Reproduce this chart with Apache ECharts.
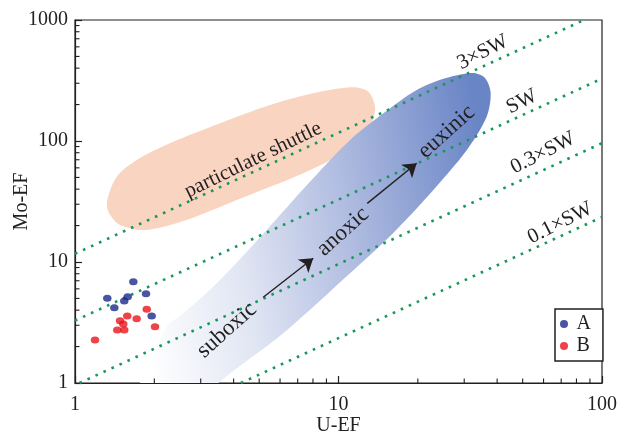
<!DOCTYPE html>
<html><head><meta charset="utf-8">
<script src="https://cdn.jsdelivr.net/npm/echarts@6/dist/echarts.min.js"></script>
<style>html,body{margin:0;padding:0;background:#fff}#c{width:621px;height:440px}</style>
</head><body><div id="c"></div>
<script>
// ---- axis ticks ----
const uTicks = [1, 10, 100];
const moTicks = [1, 10, 100, 1000];
const uMinorTicks = [2,3,4,5,6,7,8,9,20,30,40,50,60,70,80,90];
const moMinorTicks = [2,3,4,5,6,7,8,9,20,30,40,50,60,70,80,90,200,300,400,500,600,700,800,900];

// ---- samples (U-EF, Mo-EF) ----
const groupA = [[1.665,6.88],[1.326,5.01],[1.410,4.19],[1.538,4.76],[1.585,5.17],[1.860,5.47],[1.954,3.58]];
const groupB = [[1.872,4.06],[1.579,3.58],[1.482,3.27],[1.714,3.40],[1.525,3.07],[1.447,2.74],[1.538,2.74],[2.012,2.92],[1.191,2.27]];

// ---- seawater Mo/U reference lines (end points) ----
const line3SW = [[1, 11.7], [85.5, 1000]];
const lineSW = [[1, 3.28], [100, 328]];
const line03SW = [[1.04, 1], [100, 96]];
const line01SW = [[4.26, 1], [100, 23.5]];

const lineLabels = ['3×SW', 'SW', '0.3×SW', '0.1×SW'];
const lineLabelPos = [[35.3, 540], [49.6, 211], [59.7, 79.6], [69.3, 21.0]];

const zoneLabels = ['suboxic', 'anoxic', 'euxinic'];
const zoneLabelPos = [[3.77, 2.74], [10.4, 17.8], [25.7, 119]];

const shuttleLabels = ['particulate shuttle'];
const shuttleLabelPos = [[4.74, 69.7]];

const arrow1 = [[5.18, 5.11], [8.02, 10.73]];
const arrow2 = [[12.86, 30.5], [19.8, 65.4]];

// ---- field outlines (U-EF, Mo-EF) ----
const shuttleOutline = [[1.326,32.5],[1.44,50.7],[1.715,69.7],[2.29,95.7],[3.55,140],[5.50,198.5],[8.51,255],[11.38,278],[12.98,255],[13.76,192],[13.36,140],[12.07,101.9],[10.43,79.1],[7.35,54.1],[4.11,32.5],[2.65,22.2],[1.871,18.4],[1.482,20.2],[1.338,26.0]];
const redoxOutline = [[32.4,365],[35.97,331.6],[37.8,249],[36.5,158.8],[30.7,84.3],[22.9,39.4],[16.1,17.3],[11.06,8.07],[6.17,2.58],[3.50,1],[2.85,0.6],[1.62,0.6],[1.76,1],[2.23,2.92],[2.58,3.77],[3.45,6.67],[5.34,18.4],[7.5,42],[11.06,101.9],[14.8,169.4],[19.8,264],[25.6,331.6]];

const FONT = '"Liberation Serif", "Times New Roman", serif';
const INK = '#231f20';
const GREEN = '#17985a';

const chart = echarts.init(document.getElementById('c'), null, {renderer: 'canvas'});

function shapeSeries(outline, fill, z) {
  return {
    type: 'custom', coordinateSystem: 'cartesian2d', xAxisIndex: 0, yAxisIndex: 0,
    silent: true, z: z, data: outline,
    renderItem: function (params, api) {
      if (params.dataIndex !== 0) return null;
      const pts = outline.map(p => api.coord(p));
      const cs = params.coordSys;
      return {
        type: 'polygon',
        shape: {points: pts, smooth: 0.3},
        style: {fill: fill},
        clipPath: {type: 'rect', shape: {x: cs.x, y: cs.y, width: cs.width, height: cs.height}}
      };
    }
  };
}

function textSeries(texts, positions, size, rotDeg) {
  return {
    type: 'custom', coordinateSystem: 'cartesian2d', xAxisIndex: 0, yAxisIndex: 0,
    silent: true, z: 6, data: positions,
    renderItem: function (params, api) {
      const p = api.coord([api.value(0), api.value(1)]);
      return {
        type: 'text', x: p[0], y: p[1], rotation: rotDeg * Math.PI / 180,
        style: {text: texts[params.dataIndex], fontFamily: FONT, fontSize: size, fill: INK, align: 'center', verticalAlign: 'middle'}
      };
    }
  };
}

// minor ticks on the log axes, positioned through the axis scales
function minorTickSeries(values, isX) {
  return {
    type: 'custom', coordinateSystem: 'cartesian2d', xAxisIndex: 0, yAxisIndex: 0,
    silent: true, z: 9, data: values.map(v => isX ? [v, 1] : [1, v]),
    renderItem: function (params, api) {
      const p = api.coord([api.value(0), api.value(1)]);
      const cs = params.coordSys;
      const L = 4.5;
      const shape = isX
        ? {x1: p[0], y1: cs.y + cs.height, x2: p[0], y2: cs.y + cs.height - L}
        : {x1: cs.x, y1: p[1], x2: cs.x + L, y2: p[1]};
      return {type: 'line', shape: shape, style: {stroke: INK, lineWidth: 1.1}};
    }
  };
}

function dotted(data) {
  return {
    type: 'line', data: data, showSymbol: false, symbol: 'none', silent: true, z: 4,
    lineStyle: {color: GREEN, width: 2.6, type: [2.6, 6.2]}
  };
}

const fmt = v => String(Math.round(v));

chart.setOption({
  animation: false,
  grid: {left: 75, top: 20, right: 19, bottom: 57, containLabel: false, outerBoundsMode: 'none',
         show: true, borderColor: INK, borderWidth: 1.2, backgroundColor: 'transparent'},
  legend: {
    data: ['A', 'B'], orient: 'vertical', left: 555, top: 309,
    padding: [5, 12, 5, 5], itemGap: 2, itemWidth: 9, itemHeight: 8, icon: 'circle',
    borderColor: INK, borderWidth: 1.5, backgroundColor: '#fff',
    textStyle: {fontFamily: FONT, fontSize: 20, color: INK, padding: [0, 0, 0, 3]}
  },
  xAxis: {
    type: 'log', logBase: 10, min: uTicks[0], max: uTicks[uTicks.length - 1], position: 'bottom',
    axisLine: {show: true, onZero: false, lineStyle: {color: INK, width: 1.2}},
    axisTick: {show: true, inside: true, length: 7, lineStyle: {color: INK, width: 1.2}},
    axisLabel: {formatter: fmt, fontFamily: FONT, fontSize: 20, color: INK, margin: 12},
    splitLine: {show: false},
    name: 'U-EF', nameLocation: 'middle', nameGap: 33, nameMoveOverlap: false,
    nameTextStyle: {fontFamily: FONT, fontSize: 20, color: INK}
  },
  yAxis: {
    type: 'log', logBase: 10, min: moTicks[0], max: moTicks[moTicks.length - 1], position: 'left',
    axisLine: {show: true, onZero: false, lineStyle: {color: INK, width: 1.2}},
    axisTick: {show: true, inside: true, length: 7, lineStyle: {color: INK, width: 1.2}},
    axisLabel: {formatter: fmt, fontFamily: FONT, fontSize: 20, color: INK, margin: 7},
    splitLine: {show: false},
    name: 'Mo-EF', nameLocation: 'middle', nameGap: 43, nameRotate: 90, nameMoveOverlap: false,
    nameTextStyle: {fontFamily: FONT, fontSize: 20, color: INK}
  },
  series: [
    shapeSeries(shuttleOutline, '#f9d4c0', 1),
    shapeSeries(redoxOutline, new echarts.graphic.LinearGradient(0, 0.55, 1, 0.35, [
      {offset: 0, color: '#ffffff'},
      {offset: 0.3, color: '#e0e5f3'},
      {offset: 0.6, color: '#b1bde1'},
      {offset: 1, color: '#6a85c6'}
    ]), 2),
    dotted(line3SW), dotted(lineSW), dotted(line03SW), dotted(line01SW),
    textSeries(lineLabels, lineLabelPos, 21, 27),
    textSeries(zoneLabels, zoneLabelPos, 23, 42),
    textSeries(shuttleLabels, shuttleLabelPos, 21, 26),
    {
      type: 'lines', coordinateSystem: 'cartesian2d', xAxisIndex: 0, yAxisIndex: 0, silent: true, z: 6,
      data: [{coords: arrow1}, {coords: arrow2}],
      symbol: ['none', 'arrow'], symbolSize: [7, 13],
      lineStyle: {color: INK, width: 1.4, opacity: 1, curveness: 0}
    },
    minorTickSeries(uMinorTicks, true),
    minorTickSeries(moMinorTicks, false),
    {name: 'A', type: 'scatter', data: groupA, symbol: 'circle', symbolSize: [8.5, 7], itemStyle: {color: '#1b2a8c'}, z: 8},
    {name: 'B', type: 'scatter', data: groupB, symbol: 'circle', symbolSize: [8.5, 7], itemStyle: {color: '#e8141c'}, z: 8}
  ]
});
</script>
</body></html>
